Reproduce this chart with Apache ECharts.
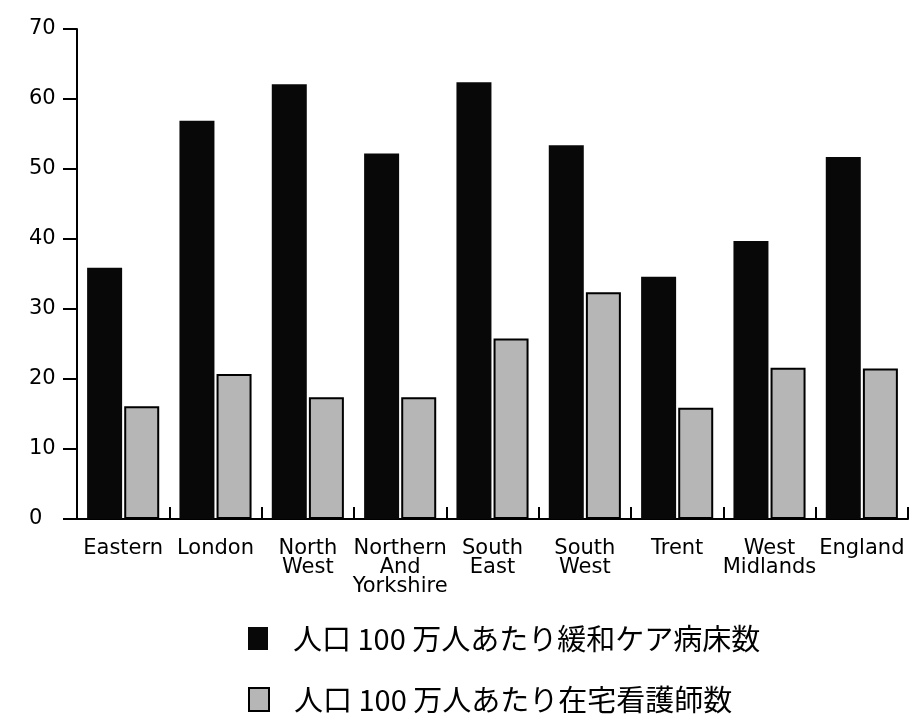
<!DOCTYPE html>
<html>
<head>
<meta charset="utf-8">
<script src="https://cdn.jsdelivr.net/npm/echarts@6/dist/echarts.min.js"></script>
<style>
  html, body { margin: 0; padding: 0; background: #ffffff; }
  #chart { width: 912px; height: 715px; }
</style>
</head>
<body>
<div id="chart"></div>
<script>
// Regional figures per million population
const regions = ['Eastern', 'London', 'North\nWest', 'Northern\nAnd\nYorkshire', 'South\nEast',
                 'South\nWest', 'Trent', 'West\nMidlands', 'England'];
const palliativeBeds = [35.9, 56.9, 62.1, 52.2, 62.4, 53.4, 34.6, 39.7, 51.7];
const homeNurses = [16.1, 20.7, 17.4, 17.4, 25.8, 32.4, 15.9, 21.6, 21.5];
const seriesNames = ['人口 100 万人あたり緩和ケア病床数', '人口 100 万人あたり在宅看護師数'];
const yMin = 0, yMax = 70, yStep = 10;

const latin = '"DejaVu Sans", "Liberation Sans", sans-serif';
const cjk = '"Noto Sans CJK JP", "Noto Sans CJK SC", sans-serif';

// one legend block per series, stacked vertically
const legendBlock = (name, top) => ({
  orient: 'vertical',
  left: 243,
  top: top,
  itemWidth: 20,
  itemHeight: 23,
  icon: 'rect',
  textStyle: {
    fontFamily: cjk,
    fontSize: 29,
    color: '#000',
    padding: [0, 0, 0, 20]
  },
  data: [name]
});

const chart = echarts.init(document.getElementById('chart'), null, { renderer: 'canvas' });
chart.setOption({
  backgroundColor: '#ffffff',
  animation: false,
  grid: { left: 77, top: 29, right: 4, bottom: 196, containLabel: false },
  xAxis: {
    type: 'category',
    data: regions,
    boundaryGap: true,
    axisLine: { show: true, lineStyle: { color: '#000', width: 2 } },
    axisTick: { show: true, interval: 0, inside: true, length: 12, lineStyle: { color: '#000', width: 2 } },
    axisLabel: {
      interval: 0,
      margin: 20,
      color: '#000',
      fontFamily: latin,
      fontSize: 21,
      lineHeight: 19,
      align: 'center'
    },
    splitLine: { show: false }
  },
  yAxis: {
    type: 'value',
    min: yMin,
    max: yMax,
    interval: yStep,
    axisLine: { show: true, lineStyle: { color: '#000', width: 2 } },
    axisTick: { show: true, inside: false, length: 14, lineStyle: { color: '#000', width: 2 } },
    axisLabel: {
      margin: 48,
      align: 'left',
      color: '#000',
      fontFamily: latin,
      fontSize: 21,
      padding: [5, 0, 0, 0]
    },
    splitLine: { show: false }
  },
  legend: [legendBlock(seriesNames[0], 619), legendBlock(seriesNames[1], 680)],
  series: [
    {
      name: seriesNames[0],
      type: 'bar',
      data: palliativeBeds,
      barWidth: 35,
      barGap: '6%',
      z: 1,
      itemStyle: { color: '#080808', borderWidth: 0 }
    },
    {
      name: seriesNames[1],
      type: 'bar',
      data: homeNurses,
      barWidth: 35,
      z: 1,
      itemStyle: { color: '#b6b6b6', borderColor: '#000', borderWidth: 2 }
    }
  ]
});
</script>
</body>
</html>
